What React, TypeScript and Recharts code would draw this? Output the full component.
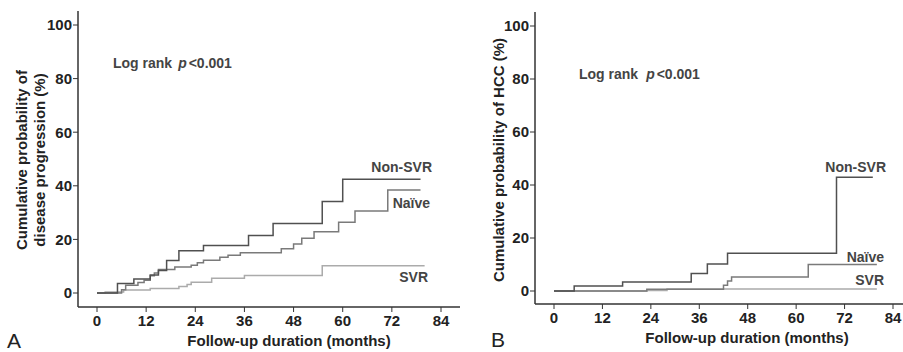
import React from "react";
import { LineChart, Line, XAxis, YAxis } from "recharts";

// Panel A – disease progression (months, cumulative %)
const A_NONSVR_T = [0, 5, 9, 13, 15, 17, 20, 26, 37, 43, 55, 60, 79];
const A_NONSVR_V = [0, 3.5, 5.2, 6.7, 8.4, 12.1, 15.8, 17.7, 21.5, 25.9, 34.1, 42.4, 42.4];
const A_NAIVE_T = [0, 6, 7, 10, 11.5, 13, 14, 15, 19, 23, 24.5, 26, 30, 32, 35, 45, 48, 50, 53, 59, 63, 71, 79];
const A_NAIVE_V = [0, 1.2, 2.9, 3.9, 4.8, 6.4, 7.5, 8.8, 9.7, 10.4, 11.3, 12.2, 13.3, 14.1, 15.0, 16.5, 18.3, 20.4, 22.9, 26.4, 30.6, 38.4, 38.4];
const A_SVR_T = [0, 2, 6.5, 13, 20, 22, 23, 28, 36, 55, 80];
const A_SVR_V = [0, 0.4, 1.1, 1.7, 2.4, 3.2, 4.0, 5.5, 6.5, 10.2, 10.2];

// Panel B – HCC
const B_NONSVR_T = [0, 5, 17, 34, 38, 43, 70, 79];
const B_NONSVR_V = [0, 1.9, 3.4, 6.6, 10.2, 14.2, 42.9, 42.9];
const B_NAIVE_T = [0, 23, 42, 43, 44, 63, 80];
const B_NAIVE_V = [0, 0.7, 2.2, 3.8, 5.3, 10.0, 10.0];
const B_SVR_T = [0, 23, 28, 80];
const B_SVR_V = [0, 0.2, 0.8, 0.8];

const X_TICKS = [0, 12, 24, 36, 48, 60, 72, 84];
const Y_TICKS = [0, 20, 40, 60, 80, 100];

const toRows = (t: number[], v: number[]) => t.map((m, i) => ({ t: m, v: v[i] }));

const FONT = "'Liberation Sans', Arial, Helvetica, sans-serif";
const DARK = "#505050";
const MID = "#7a7a7a";
const LIGHT = "#ababab";
const AXIS = "#333";
const TXT = "#222";
const NOTE = "#444";

const tickStyle = { fontSize: 15, fontWeight: 700, fill: TXT, fontFamily: FONT };

function Panel(props: {
  width: number;
  top: number;
  yWidth: number;
  xHeight: number;
  xPad: { left: number; right: number };
  yPad: { top: number; bottom: number };
  series: { rows: { t: number; v: number }[]; color: string; id: string }[];
  children?: React.ReactNode;
}) {
  return (
    <LineChart
      width={props.width}
      height={352}
      margin={{ top: props.top, right: 0, bottom: 0, left: 0 }}
    >
      <XAxis
        dataKey="t"
        type="number"
        domain={[0, 84]}
        ticks={X_TICKS}
        padding={props.xPad}
        height={props.xHeight}
        tick={tickStyle}
        tickSize={5}
        tickMargin={3}
        axisLine={{ stroke: AXIS, strokeWidth: 1.5 }}
        tickLine={{ stroke: AXIS }}
        allowDuplicatedCategory={false}
      />
      <YAxis
        type="number"
        domain={[0, 100]}
        ticks={Y_TICKS}
        padding={props.yPad}
        width={props.yWidth}
        tick={tickStyle}
        tickSize={5}
        tickMargin={1}
        axisLine={{ stroke: AXIS, strokeWidth: 1.5 }}
        tickLine={{ stroke: AXIS }}
      />
      {props.series.map((s) => (
        <Line
          key={s.id}
          data={s.rows}
          dataKey="v"
          type="stepAfter"
          stroke={s.color}
          strokeWidth={1.5}
          dot={false}
          activeDot={false}
          isAnimationActive={false}
        />
      ))}
      {props.children}
    </LineChart>
  );
}

export default function App() {
  const noteStyle = { fontSize: 14, fontWeight: 700, fill: NOTE, fontFamily: FONT } as const;
  const titleStyle = { fontSize: 15, fontWeight: 700, fill: TXT, fontFamily: FONT } as const;
  return (
    <div style={{ position: "absolute", left: 0, top: 0, width: 903, height: 352, background: "#fff" }}>
      <div style={{ position: "absolute", left: 0, top: 0 }}>
        <Panel
          width={460}
          top={11}
          yWidth={78}
          xHeight={45}
          xPad={{ left: 19, right: 19 }}
          yPad={{ top: 14, bottom: 14 }}
          series={[
            { id: "svr", rows: toRows(A_SVR_T, A_SVR_V), color: LIGHT },
            { id: "naive", rows: toRows(A_NAIVE_T, A_NAIVE_V), color: MID },
            { id: "nonsvr", rows: toRows(A_NONSVR_T, A_NONSVR_V), color: DARK },
          ]}
        >
          <text x={21} y={160} transform="rotate(-90 21 160)" textAnchor="middle" dominantBaseline="central" style={titleStyle}>
            Cumulative probability of
          </text>
          <text x={39} y={160} transform="rotate(-90 39 160)" textAnchor="middle" dominantBaseline="central" style={titleStyle}>
            disease progression (%)
          </text>
          <text x={289} y={346} textAnchor="middle" style={titleStyle}>
            Follow-up duration (months)
          </text>
          <text x={7} y={348} style={{ fontSize: 21, fill: TXT, fontFamily: FONT }}>A</text>
          <text x={113} y={68} style={noteStyle}>
            Log rank<tspan dx={6} fontStyle="italic">p</tspan>
            <tspan dx={2}>{"<0.001"}</tspan>
          </text>
          <text x={432} y={171.5} textAnchor="end" style={noteStyle}>Non-SVR</text>
          <text x={430} y={208} textAnchor="end" style={noteStyle}>Naïve</text>
          <text x={428} y={281.5} textAnchor="end" style={noteStyle}>SVR</text>
        </Panel>
      </div>
      <div style={{ position: "absolute", left: 450, top: 0 }}>
        <Panel
          width={453}
          top={12}
          yWidth={85}
          xHeight={48}
          xPad={{ left: 19, right: 10 }}
          yPad={{ top: 14, bottom: 13 }}
          series={[
            { id: "svr", rows: toRows(B_SVR_T, B_SVR_V), color: LIGHT },
            { id: "naive", rows: toRows(B_NAIVE_T, B_NAIVE_V), color: MID },
            { id: "nonsvr", rows: toRows(B_NONSVR_T, B_NONSVR_V), color: DARK },
          ]}
        >
          <text x={48} y={160} transform="rotate(-90 48 160)" textAnchor="middle" dominantBaseline="central" style={titleStyle}>
            Cumulative probability of HCC (%)
          </text>
          <text x={297} y={343} textAnchor="middle" style={titleStyle}>
            Follow-up duration (months)
          </text>
          <text x={41} y={347} style={{ fontSize: 21, fill: TXT, fontFamily: FONT }}>B</text>
          <text x={129} y={79} style={noteStyle}>
            Log rank<tspan dx={8} fontStyle="italic">p</tspan>
            <tspan dx={2}>{"<0.001"}</tspan>
          </text>
          <text x={436} y={172} textAnchor="end" style={noteStyle}>Non-SVR</text>
          <text x={434} y={261.5} textAnchor="end" style={noteStyle}>Naïve</text>
          <text x={434} y={285} textAnchor="end" style={noteStyle}>SVR</text>
        </Panel>
      </div>
    </div>
  );
}
